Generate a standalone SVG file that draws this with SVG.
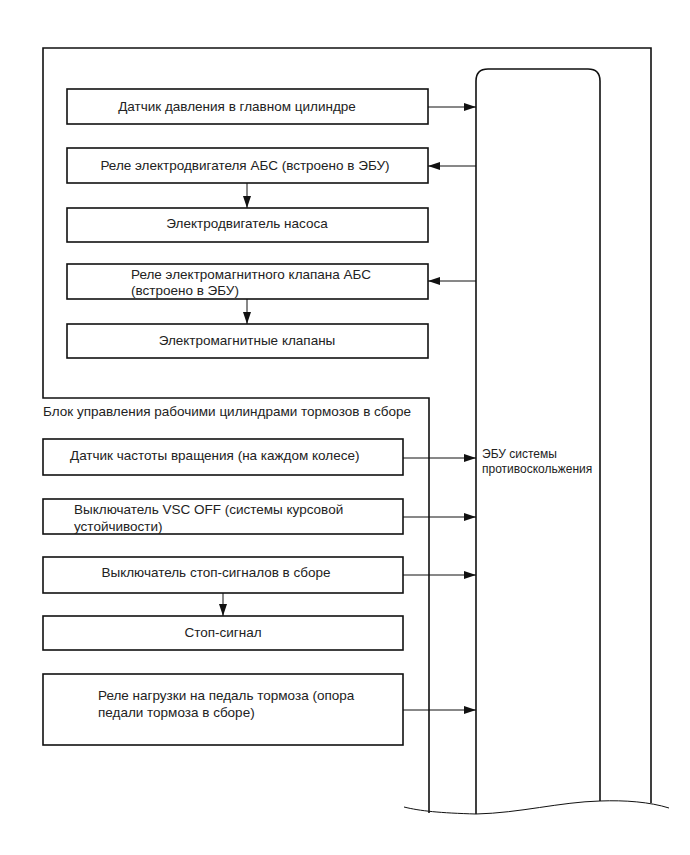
<svg xmlns="http://www.w3.org/2000/svg" width="690" height="855" viewBox="0 0 690 855">
<style>
.box{fill:#fff;stroke:#111;stroke-width:1.6}
.frame{fill:none;stroke:#111;stroke-width:1.6}
.wire{fill:none;stroke:#111;stroke-width:1}
.t{font-family:"Liberation Sans",Arial,sans-serif;font-size:13.5px;fill:#222}
.s{font-size:12px}
.c{text-anchor:middle}
</style>
<defs>
<marker id="ah" viewBox="0 0 12 8" refX="12" refY="4" markerWidth="12" markerHeight="8" markerUnits="userSpaceOnUse" orient="auto">
<path d="M0,0 L12,4 L0,8 Z" fill="#111"/>
</marker>
</defs>
<rect width="690" height="855" fill="#fff"/>
<g id="frame">
<path class="frame" d="M651,803 L651,48 L43,48 L43,398 L429,398 L429,813"/>
<path class="frame" d="M476,814 L476,81 Q476,69 488,69 L588,69 Q600,69 600,81 L600,801"/>
<path class="wire" d="M404,807 C420,811 440,813 476,814 C520,813 560,802 600,801 C625,800 650,802 669,808" stroke-width="1.3"/>
<text class="t" x="43" y="416">Блок управления рабочими цилиндрами тормозов в сборе</text>
</g>
<g id="ecu">
<text class="t s" x="482" y="458">ЭБУ системы</text>
<text class="t s" x="482" y="473">противоскольжения</text>
</g>
<g id="n1"><rect class="box" x="67" y="89" width="361" height="35"/><text class="t c" x="237" y="111">Датчик давления в главном цилиндре</text></g>
<g id="n2"><rect class="box" x="67" y="148" width="361" height="35"/><text class="t c" x="245" y="170">Реле электродвигателя АБС (встроено в ЭБУ)</text></g>
<g id="n3"><rect class="box" x="67" y="208" width="361" height="34"/><text class="t c" x="247" y="228">Электродвигатель насоса</text></g>
<g id="n4"><rect class="box" x="67" y="264" width="361" height="35"/><text class="t" x="131" y="279">Реле электромагнитного клапана АБС</text><text class="t" x="131" y="295">(встроено в ЭБУ)</text></g>
<g id="n5"><rect class="box" x="67" y="324" width="361" height="34"/><text class="t c" x="247" y="345">Электромагнитные клапаны</text></g>
<g id="n6"><rect class="box" x="43" y="439" width="360" height="36"/><text class="t" x="70" y="460">Датчик частоты вращения (на каждом колесе)</text></g>
<g id="n7"><rect class="box" x="43" y="499" width="360" height="35"/><text class="t" x="74" y="514">Выключатель VSC OFF (системы курсовой</text><text class="t" x="74" y="531">устойчивости)</text></g>
<g id="n8"><rect class="box" x="43" y="557" width="360" height="36"/><text class="t c" x="216" y="577">Выключатель стоп-сигналов в сборе</text></g>
<g id="n9"><rect class="box" x="43" y="616" width="360" height="34"/><text class="t c" x="223" y="637">Стоп-сигнал</text></g>
<g id="n10"><rect class="box" x="43" y="674" width="360" height="71"/><text class="t" x="98" y="700">Реле нагрузки на педаль тормоза (опора</text><text class="t" x="98" y="717">педали тормоза в сборе)</text></g>
<g id="connectors">
<line class="wire" x1="428" y1="107" x2="476" y2="107" marker-end="url(#ah)"/>
<line class="wire" x1="476" y1="166" x2="428" y2="166" marker-end="url(#ah)"/>
<line class="wire" x1="247" y1="183" x2="247" y2="208" marker-end="url(#ah)"/>
<line class="wire" x1="476" y1="281" x2="428" y2="281" marker-end="url(#ah)"/>
<line class="wire" x1="247" y1="299" x2="247" y2="324" marker-end="url(#ah)"/>
<line class="wire" x1="403" y1="458" x2="476" y2="458" marker-end="url(#ah)"/>
<line class="wire" x1="403" y1="517" x2="476" y2="517" marker-end="url(#ah)"/>
<line class="wire" x1="403" y1="575" x2="476" y2="575" marker-end="url(#ah)"/>
<line class="wire" x1="223" y1="593" x2="223" y2="616" marker-end="url(#ah)"/>
<line class="wire" x1="403" y1="710" x2="476" y2="710" marker-end="url(#ah)"/>
</g>
</svg>
